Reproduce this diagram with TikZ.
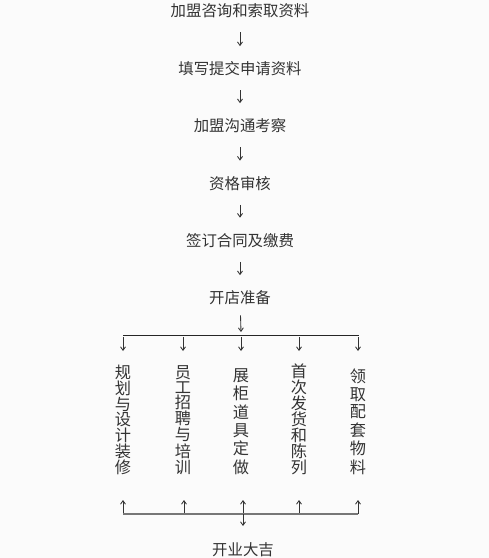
\documentclass[tikz,border=0pt]{standalone}
\usepackage{fontspec}
\setmainfont{Noto Sans CJK SC}
\usetikzlibrary{arrows.meta}

\definecolor{txtgray}{HTML}{333333}
\definecolor{busgray}{HTML}{777777}
\definecolor{bggray}{HTML}{FBFBFB}

\newcommand\charstack[2]{\vbox to #1{\offinterlineskip
  \foreach \ch [count=\k] in {#2}{\ifnum\k>1 \vfill\fi\hbox to 16bp{\hss\ch\hss}}}}

\tikzset{
  steplabel/.style={inner sep=0pt, text=txtgray, font=\fontsize{15.4bp}{18bp}\selectfont},
  colstack/.style={inner sep=0pt, text=txtgray, font=\fontsize{16.2bp}{18bp}\selectfont, anchor=south},
  arr/.style={draw=txtgray, line width=0.85bp, -{Straight Barb[length=3.5bp,width=5bp]}},
  flowarr/.style={arr, shorten <=14bp, shorten >=15.5bp}
}

\begin{document}
\begin{tikzpicture}[x=1bp,y=-1bp]
\fill[bggray] (0,0) rectangle (489,558);
\useasboundingbox (0,0) rectangle (489,558);
% main steps
\node[steplabel] (s1) at (240,11) {加盟咨询和索取资料};
\node[steplabel] (s2) at (240,69) {填写提交申请资料};
\node[steplabel] (s3) at (240,126) {加盟沟通考察};
\node[steplabel] (s4) at (240,183.5) {资格审核};
\node[steplabel] (s5) at (240,240.5) {签订合同及缴费};
\node[steplabel] (s6) at (240,298) {开店准备};
\foreach \a/\b in {s1/s2,s2/s3,s3/s4,s4/s5,s5/s6}
  \draw[flowarr] (\a) -- (\b);
% split into five tasks
\coordinate (top) at (241,335);
\draw[arr, shorten <=10bp] (s6) -- (top |- 0,332);
\draw[line width=1bp, draw=black!85] (123,335) -- (359,335);
\node[colstack] (c1) at (123,475) {\charstack{108bp}{规,划,与,设,计,装,修}};
\node[colstack] (c2) at (183,475) {\charstack{108bp}{员,工,招,聘,与,培,训}};
\node[colstack] (c3) at (241,475) {\charstack{105bp}{展,柜,道,具,定,做}};
\node[colstack] (c4) at (299,475) {\charstack{110bp}{首,次,发,货,和,陈,列}};
\node[colstack] (c5) at (358,475) {\charstack{105bp}{领,取,配,套,物,料}};
\foreach \i/\x in {1/123,2/183,3/241,4/299,5/358}{
  \coordinate (t\i) at (\x,337);
  \coordinate (a\i) at (\x,351);
  \draw[arr] (t\i) -- (a\i);
}
% join again
\foreach \i/\x in {1/123,2/184,3/243,4/299,5/358}{
  \coordinate (b\i) at (\x,514);
  \coordinate (u\i) at (\x,500);
  \draw[arr] (b\i) -- (u\i);
}
\draw[line width=1.5bp, draw=busgray] (b1) -- (b5);
\node[steplabel] (end) at (243,550) {开业大吉};
\draw[arr, shorten >=2bp] (b3) -- (b3 |- 0,528);
\end{tikzpicture}
\end{document}
